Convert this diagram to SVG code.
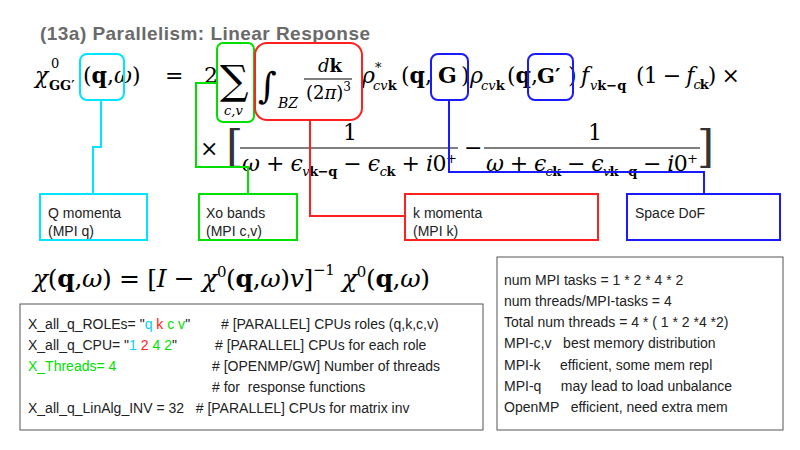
<svg xmlns="http://www.w3.org/2000/svg" width="800" height="450" viewBox="0 0 800 450">
<style>
.m{font-family:"DejaVu Serif","Liberation Serif",serif;fill:#000}
.i{font-style:italic}
.b{font-weight:bold}
.t{font-family:"Liberation Sans",Arial,sans-serif;font-size:14px;fill:#222;white-space:pre}
.box{fill:#fff;stroke-width:2}
.ln{fill:none;stroke-width:2}
</style>
<rect width="800" height="450" fill="#fff"/>
<text x="40" y="40" font-family="Liberation Sans,Arial,sans-serif" font-size="19" font-weight="bold" fill="#6a6a6a" textLength="330">(13a) Parallelism: Linear Response</text>

<g id="eq1" class="m" font-size="22">
<text x="35" y="83" class="i">χ</text>
<text x="51" y="68" font-size="13">0</text>
<text x="49" y="90" font-size="13" class="b">GG′</text>
<text x="83" y="83">(<tspan class="b">q</tspan>,<tspan class="i">ω</tspan>)</text>
<text x="165" y="83">=</text>
<text x="204" y="83">2</text>
<text x="220" y="94" font-size="40">∑</text>
<text x="224" y="115" font-size="13" class="i">c,v</text>
<text x="258" y="98" font-size="36" class="i">∫</text>
<text x="278" y="108" font-size="14" class="i">BZ</text>
<text x="318" y="72" font-size="18"><tspan class="i">d</tspan><tspan class="b">k</tspan></text>
<line x1="304" y1="79" x2="352" y2="79" stroke="#000" stroke-width="1"/>
<text x="306" y="99" font-size="18">(2<tspan class="i">π</tspan>)<tspan font-size="12" dy="-8">3</tspan></text>
<text x="362" y="83" class="i">ρ</text>
<text x="375" y="72" font-size="13">*</text>
<text x="373" y="90" font-size="13"><tspan class="i">cv</tspan><tspan class="b">k</tspan></text>
<text x="401" y="83">(<tspan class="b">q</tspan>,</text>
<text x="438" y="83" class="b">G</text>
<text x="461" y="83">)</text>
<text x="470" y="83" class="i">ρ</text>
<text x="481" y="90" font-size="13"><tspan class="i">cv</tspan><tspan class="b">k</tspan></text>
<text x="507" y="83">(<tspan class="b">q</tspan>,</text>
<text x="537" y="83" class="b" font-size="21">G′</text>
<text x="568" y="83">)</text>
<text x="581" y="83" class="i">f</text>
<text x="590" y="90" font-size="13"><tspan class="i">v</tspan><tspan class="b">k−q</tspan></text>
<text x="636" y="83" textLength="104">(1 − <tspan class="i">f</tspan><tspan font-size="13" dy="6"><tspan class="i">c</tspan><tspan class="b">k</tspan></tspan><tspan dy="-6">) ×</tspan></text>
<text x="200" y="156">×</text>
<text x="226" y="162" font-size="44" font-weight="lighter" fill="#333">[</text>
<text x="697" y="162" font-size="44" font-weight="lighter" fill="#333">]</text>
<text x="343" y="140">1</text>
<line x1="240" y1="148" x2="458" y2="148" stroke="#000" stroke-width="1"/>
<text x="242" y="171" textLength="215"><tspan class="i">ω</tspan> + <tspan class="i">ϵ</tspan><tspan font-size="13" dy="5"><tspan class="i">v</tspan><tspan class="b">k−q</tspan></tspan><tspan dy="-5"> − </tspan><tspan class="i">ϵ</tspan><tspan font-size="13" dy="5"><tspan class="i">c</tspan><tspan class="b">k</tspan></tspan><tspan dy="-5"> + </tspan><tspan class="i">i</tspan>0<tspan font-size="13" dy="-8">+</tspan></text>
<text x="464" y="155">−</text>
<text x="588" y="140">1</text>
<line x1="484" y1="148" x2="700" y2="148" stroke="#000" stroke-width="1"/>
<text x="486" y="171" textLength="212"><tspan class="i">ω</tspan> + <tspan class="i">ϵ</tspan><tspan font-size="13" dy="5"><tspan class="i">c</tspan><tspan class="b">k</tspan></tspan><tspan dy="-5"> − </tspan><tspan class="i">ϵ</tspan><tspan font-size="13" dy="5"><tspan class="i">v</tspan><tspan class="b">k−q</tspan></tspan><tspan dy="-5"> − </tspan><tspan class="i">i</tspan>0<tspan font-size="13" dy="-8">+</tspan></text>
</g>

<g id="connectors">
<path class="ln" stroke="#00e5ff" d="M101,100 V147 H93 V194"/>
<path class="ln" stroke="#00e000" d="M217,83 H196 V167 H248 V194"/>
<path class="ln" stroke="#ff2020" d="M310,120 V216 H405"/>
<path class="ln" stroke="#1a1aff" d="M449,100 V172 H704 V194"/>
</g>

<g id="hl-q"><rect x="80" y="54" width="44" height="46" rx="7" class="ln" stroke="#00e5ff"/></g>
<g id="hl-cv"><rect x="217" y="43" width="37" height="79" rx="6" class="ln" stroke="#00e000"/></g>
<g id="hl-k"><rect x="255" y="43" width="107" height="77" rx="12" class="ln" stroke="#ff2020"/></g>
<g id="hl-G"><rect x="431" y="54" width="37" height="46" rx="7" class="ln" stroke="#1a1aff"/></g>
<g id="hl-Gp"><rect x="528" y="54" width="45" height="46" rx="7" class="ln" stroke="#1a1aff"/></g>

<g id="n-q"><rect x="40" y="194" width="107" height="46" class="box" stroke="#00e5ff"/><text class="t" x="48" y="218">Q momenta</text><text class="t" x="48" y="236">(MPI q)</text></g>
<g id="n-cv"><rect x="199" y="194" width="98" height="46" class="box" stroke="#00e000"/><text class="t" x="206" y="218">Xo bands</text><text class="t" x="206" y="236">(MPI c,v)</text></g>
<g id="n-k"><rect x="405" y="194" width="193" height="46" class="box" stroke="#ff2020"/><text class="t" x="413" y="218">k momenta</text><text class="t" x="413" y="236">(MPI k)</text></g>
<g id="n-G"><rect x="627" y="194" width="153" height="46" class="box" stroke="#1a1aff"/><text class="t" x="635" y="218">Space DoF</text></g>

<g id="eq2" class="m" font-size="25">
<text x="33" y="287" textLength="397"><tspan class="i">χ</tspan>(<tspan class="b">q</tspan>,<tspan class="i">ω</tspan>) = [<tspan class="i">I</tspan> − <tspan class="i">χ</tspan><tspan font-size="15" dy="-10">0</tspan><tspan dy="10">(</tspan><tspan class="b">q</tspan>,<tspan class="i">ω</tspan>)<tspan class="i">v</tspan>]<tspan font-size="15" dy="-12">−1</tspan><tspan dy="12"> </tspan><tspan class="i">χ</tspan><tspan font-size="15" dy="-10">0</tspan><tspan dy="10">(</tspan><tspan class="b">q</tspan>,<tspan class="i">ω</tspan>)</text>
</g>

<g id="code">
<rect x="20" y="304" width="463" height="126" fill="#fff" stroke="#555" stroke-width="1"/>
<text class="t" x="28" y="329">X_all_q_ROLEs= "<tspan fill="#00d0ff">q</tspan> <tspan fill="#ff2020">k</tspan> <tspan fill="#00e000">c v</tspan>"</text><text class="t" x="221" y="329"># [PARALLEL] CPUs roles (q,k,c,v)</text>
<text class="t" x="28" y="350">X_all_q_CPU= "<tspan fill="#00d0ff">1</tspan> <tspan fill="#ff2020">2</tspan> <tspan fill="#00e000">4 2</tspan>"</text><text class="t" x="215" y="350"># [PARALLEL] CPUs for each role</text>
<text class="t" x="28" y="371" style="fill:#00e000">X_Threads= 4</text><text class="t" x="212" y="371"># [OPENMP/GW] Number of threads</text>
<text class="t" x="212" y="392"># for  response functions</text>
<text class="t" x="28" y="413">X_all_q_LinAlg_INV = 32   # [PARALLEL] CPUs for matrix inv</text>
</g>

<g id="notes">
<rect x="497" y="257" width="286" height="173" fill="#fff" stroke="#555" stroke-width="1"/>
<text class="t" x="504" y="285">num MPI tasks = 1 * 2 * 4 * 2</text>
<text class="t" x="504" y="306">num threads/MPI-tasks = 4</text>
<text class="t" x="504" y="327">Total num threads = 4 * ( 1 * 2 *4 *2)</text>
<text class="t" x="504" y="348">MPI-c,v   best memory distribution</text>
<text class="t" x="504" y="370">MPI-k     efficient, some mem repl</text>
<text class="t" x="504" y="391">MPI-q     may lead to load unbalance</text>
<text class="t" x="504" y="412">OpenMP   efficient, need extra mem</text>
</g>
</svg>
